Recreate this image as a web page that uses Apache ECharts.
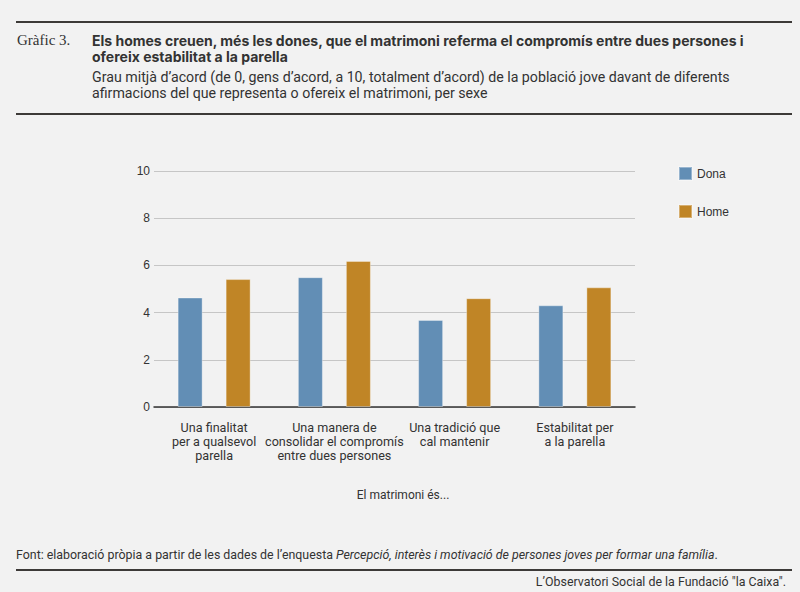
<!DOCTYPE html>
<html>
<head>
<meta charset="utf-8">
<script src="https://cdn.jsdelivr.net/npm/echarts@6/dist/echarts.min.js"></script>
<style>
  html, body { margin: 0; padding: 0; background: #f2f2f2; }
  #chart { width: 800px; height: 592px; }
</style>
</head>
<body>
<div id="chart"></div>
<script>
// data
const categories = [
  "Una finalitat\nper a qualsevol\nparella",
  "Una manera de\nconsolidar el compromís\nentre dues persones",
  "Una tradició que\ncal mantenir",
  "Estabilitat per\na la parella"
];
const dona = [4.64, 5.5, 3.69, 4.31];
const home = [5.42, 6.19, 4.61, 5.07];
const seriesNames = ["Dona", "Home"];

const face = 'Roboto, "Liberation Sans", sans-serif';
const heavy = 'Inter, "Liberation Sans", sans-serif';
const sans = '"Liberation Sans", Arial, sans-serif';
const ink = "#333333";

const chart = echarts.init(document.getElementById("chart"), null, { renderer: "svg" });

chart.setOption({
  backgroundColor: "#f2f2f2",
  animation: false,
  legend: {
    orient: "vertical",
    left: 673,
    top: 161,
    itemWidth: 13,
    itemHeight: 13,
    itemGap: 23,
    icon: "rect",
    data: seriesNames,
    textStyle: { fontFamily: sans, fontSize: 12, color: ink, padding: [0, 0, 0, 0] }
  },
  grid: { left: 154, width: 481, top: 171, height: 236 },
  xAxis: {
    type: "category",
    data: categories,
    axisTick: { show: false },
    axisLine: { lineStyle: { color: "#333", width: 1.5 } },
    axisLabel: {
      interval: 0,
      margin: 13,
      fontFamily: face,
      fontSize: 12.6,
      lineHeight: 14,
      color: ink
    }
  },
  yAxis: {
    type: "value",
    min: 0,
    max: 10,
    interval: 2,
    axisLine: { show: false },
    axisTick: { show: false },
    splitLine: { lineStyle: { color: "#c6c6c6", width: 1 } },
    axisLabel: { margin: 4, fontFamily: sans, fontSize: 12, color: ink }
  },
  series: [
    {
      name: seriesNames[0],
      type: "bar",
      data: dona,
      barWidth: 25,
      barGap: "92%",
      itemStyle: { color: "#628eb5", borderColor: "rgba(255,255,255,0.35)", borderWidth: 1 }
    },
    {
      name: seriesNames[1],
      type: "bar",
      data: home,
      barWidth: 25,
      itemStyle: { color: "#c08526", borderColor: "rgba(255,255,255,0.35)", borderWidth: 1 }
    }
  ],
  graphic: [
    // rules
    { type: "rect", shape: { x: 16, y: 21, width: 776, height: 2 }, style: { fill: "#3d3a38" } },
    { type: "rect", shape: { x: 16, y: 113, width: 776, height: 2 }, style: { fill: "#3d3a38" } },
    { type: "rect", shape: { x: 16, y: 569, width: 776, height: 2 }, style: { fill: "#3d3a38" } },
    // header
    {
      type: "text", left: 17, top: 32,
      style: { text: "Gràfic 3.", font: '15px "Liberation Serif", "DejaVu Serif", serif', fill: ink }
    },
    {
      type: "text", left: 92, top: 32,
      style: {
        text: "Els homes creuen, més les dones, que el matrimoni referma el compromís entre dues persones i\nofereix estabilitat a la parella",
        font: 'bold 14px ' + heavy, lineHeight: 16, fill: ink
      }
    },
    {
      type: "text", left: 92, top: 69,
      style: {
        text: "Grau mitjà d’acord (de 0, gens d’acord, a 10, totalment d’acord) de la població jove davant de diferents\nafirmacions del que representa o ofereix el matrimoni, per sexe",
        font: '14.2px ' + face, lineHeight: 16, fill: ink
      }
    },
    // axis title
    {
      type: "text", x: 403, y: 495,
      style: { text: "El matrimoni és...", font: '12px ' + face, fill: ink, align: "center", verticalAlign: "middle" }
    },
    // footer
    {
      type: "text", left: 16, top: 548,
      style: {
        text: "{n|Font: elaboració pròpia a partir de les dades de l’enquesta }{i|Percepció, interès i motivació de persones joves per formar una família}{n|.}",
        rich: {
          n: { font: '12.4px ' + face, fill: ink },
          i: { font: 'italic 12.4px ' + face, fill: ink }
        }
      }
    },
    {
      type: "text", right: 14, top: 575,
      style: { text: "L’Observatori Social de la Fundació \"la Caixa\".", font: '12.4px ' + face, fill: ink }
    }
  ]
});
</script>
</body>
</html>
